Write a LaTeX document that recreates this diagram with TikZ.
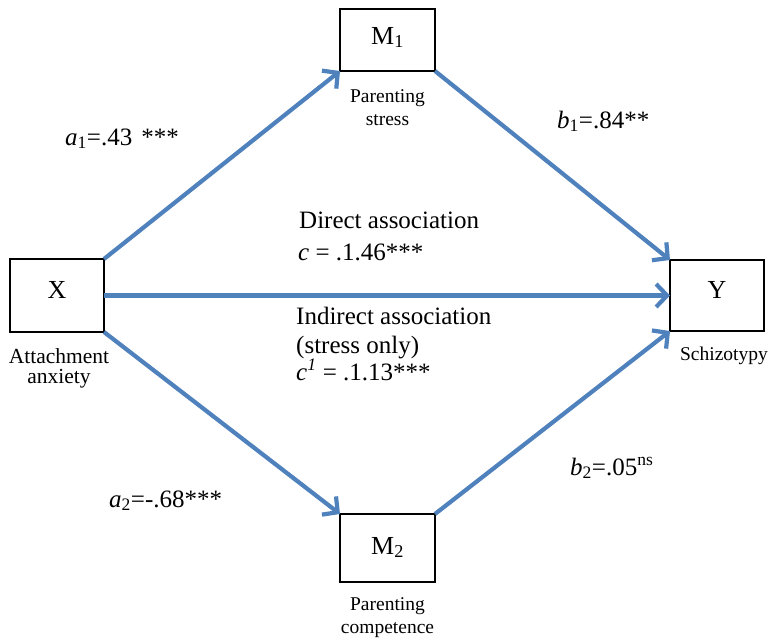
\documentclass[tikz,border=0pt]{standalone}
\usepackage{fontspec}
\setmainfont{Liberation Serif}
\usetikzlibrary{arrows.meta}
\definecolor{pathblue}{HTML}{4F81BD}
\tikzset{
  box/.style={draw=black, line width=1.8pt, fill=white, inner sep=0pt, outer sep=0pt},
  conn/.style={draw=pathblue, line width=4.2pt, -{Straight Barb[length=11pt,width=23pt]}},
  boxlab/.style={font=\fontsize{26}{30}\selectfont, anchor=base, inner sep=0pt},
  smalllab/.style={font=\fontsize{19.5}{23}\selectfont, anchor=base, inner sep=0pt, align=center},
  edgelab/.style={font=\fontsize{25}{29}\selectfont, anchor=base west, inner sep=0pt},
}
\begin{document}
\begin{tikzpicture}[x=1pt,y=-1pt]
\useasboundingbox (0,0) rectangle (772,643);
% boxes
\node[box, minimum width=94pt, minimum height=73pt] (X) at (57,295.5) {};
\node[box, minimum width=95pt, minimum height=62pt] (M1) at (387.5,40) {};
\node[box, minimum width=95pt, minimum height=68pt] (M2) at (387.5,548) {};
\node[box, minimum width=94pt, minimum height=71pt] (Y) at (717,295.5) {};
% box labels
\node[boxlab] (Xl) at (57,298) {X};
\node[boxlab] (M1l) at (387.5,44) {M\textsubscript{1}};
\node[boxlab] (M2l) at (387.5,554) {M\textsubscript{2}};
\node[boxlab] (Yl) at (717,298) {Y};
% variable names
\node[smalllab, font=\fontsize{21.5}{20}\selectfont] (Xn1) at (59,363) {Attachment};
\node[smalllab, font=\fontsize{21.5}{20}\selectfont] (Xn2) at (59,383) {anxiety};
\node[smalllab] (M1n1) at (387.5,102) {Parenting};
\node[smalllab] (M1n2) at (387.5,125) {stress};
\node[smalllab] (M2n1) at (387.5,610) {Parenting};
\node[smalllab] (M2n2) at (387.5,633) {competence};
\node[smalllab] (Yn) at (724,360) {Schizotypy};
% connectors
\draw[conn] (X.north east) -- (M1.south west);
\draw[conn] (M1.south east) -- (Y.north west);
\draw[conn] (X.east) -- (Y.west);
\draw[conn] (X.south east) -- (M2.north west);
\draw[conn] (M2.north east) -- (Y.south west);
% path labels
\node[edgelab] (a1) at (65,145) {\textit{a}\textsubscript{1}=.43\hspace{9pt}***};
\node[edgelab] (b1) at (557,128) {\textit{b}\textsubscript{1}=.84**};
\node[edgelab] (a2) at (109,507) {\textit{a}\textsubscript{2}=-.68***};
\node[edgelab] (b2) at (570,475) {\textit{b}\textsubscript{2}=.05\textsuperscript{ns}};
\node[edgelab] (d1) at (299,228) {Direct association};
\node[edgelab] (d2) at (298,260) {\textit{c} = .1.46***};
\node[edgelab] (i1) at (296,324) {Indirect association};
\node[edgelab] (i2) at (296,353) {(stress only)};
\node[edgelab] (i3) at (296,380) {\textit{c}\textsuperscript{\textit{1}} = .1.13***};
\end{tikzpicture}
\end{document}
